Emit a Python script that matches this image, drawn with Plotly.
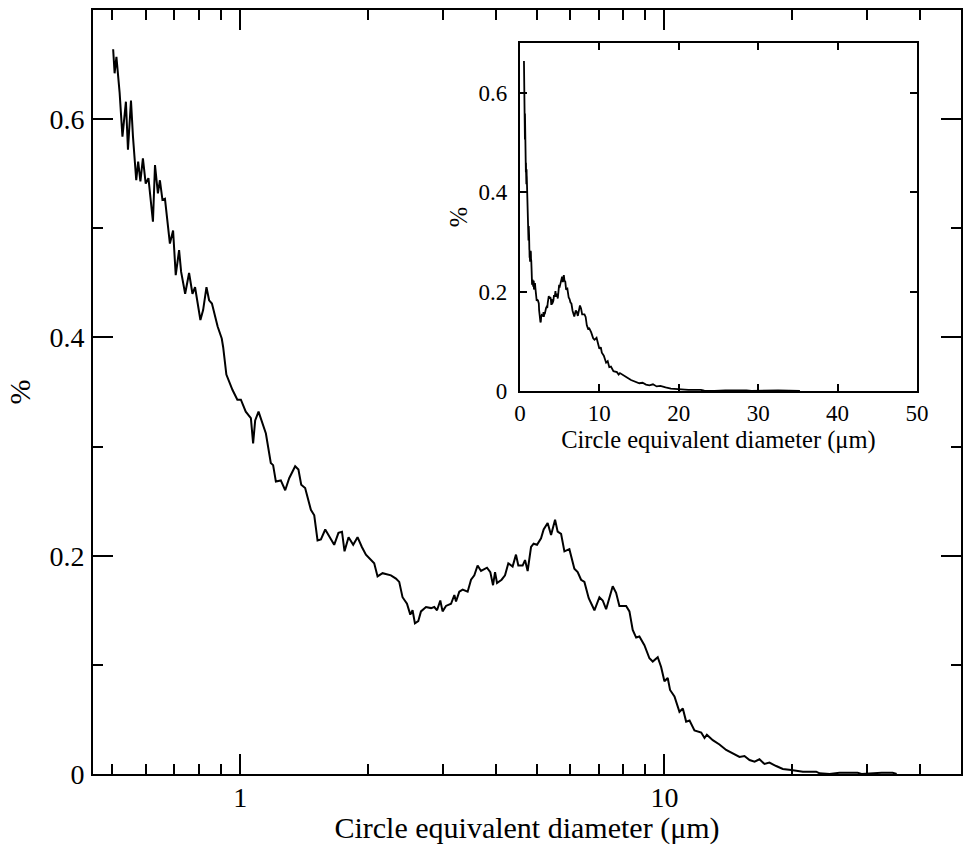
import math
import plotly.graph_objects as go

# Circle equivalent diameter (µm) and frequency (%)
diameter_um = [
    0.502, 0.506, 0.511, 0.515, 0.520, 0.528, 0.538, 0.544, 0.553, 0.559,
    0.569, 0.575, 0.582, 0.590, 0.599, 0.608, 0.623, 0.630, 0.640, 0.647,
    0.656, 0.665, 0.683, 0.695, 0.705, 0.718, 0.726, 0.742, 0.758, 0.772,
    0.783, 0.806, 0.818, 0.833, 0.845, 0.858, 0.885, 0.905, 0.912, 0.928,
    0.959, 0.985, 1.004, 1.031, 1.060, 1.073, 1.085, 1.105, 1.150, 1.181,
    1.196, 1.214, 1.247, 1.277, 1.305, 1.348, 1.372, 1.393, 1.423, 1.468,
    1.495, 1.522, 1.550, 1.587, 1.628, 1.666, 1.705, 1.738, 1.762, 1.801,
    1.847, 1.891, 1.936, 1.979, 2.070, 2.108, 2.166, 2.267, 2.329, 2.371,
    2.414, 2.473, 2.518, 2.549, 2.582, 2.629, 2.668, 2.742, 2.818, 2.868,
    2.911, 2.963, 3.000, 3.056, 3.141, 3.198, 3.227, 3.285, 3.345, 3.437,
    3.501, 3.564, 3.628, 3.696, 3.818, 3.887, 3.945, 3.988, 4.031, 4.133,
    4.210, 4.286, 4.387, 4.468, 4.525, 4.632, 4.693, 4.760, 4.849, 4.917,
    5.009, 5.119, 5.192, 5.306, 5.405, 5.524, 5.602, 5.707, 5.811, 5.970,
    6.134, 6.245, 6.361, 6.477, 6.631, 6.839, 7.027, 7.154, 7.287, 7.553,
    7.693, 7.832, 8.123, 8.270, 8.419, 8.576, 8.730, 8.970, 9.218, 9.385,
    9.643, 9.822, 10.00, 10.18, 10.31, 10.56, 10.85, 11.05, 11.25, 11.46,
    11.77, 12.21, 12.43, 12.59, 13.00, 13.48, 13.98, 14.49, 15.03, 15.44,
    15.87, 16.31, 16.75, 17.21, 17.68, 18.34, 19.01, 19.90, 21.20, 22.79,
    23.21, 24.50, 25.86, 28.52, 29.15, 32.50, 34.50, 35.26,
]

percent = [
    0.664, 0.642, 0.657, 0.643, 0.624, 0.584, 0.616, 0.572, 0.617, 0.584,
    0.544, 0.561, 0.543, 0.564, 0.541, 0.546, 0.506, 0.558, 0.532, 0.544,
    0.526, 0.527, 0.486, 0.498, 0.457, 0.480, 0.460, 0.440, 0.459, 0.440,
    0.446, 0.416, 0.425, 0.446, 0.434, 0.431, 0.410, 0.399, 0.391, 0.366,
    0.352, 0.343, 0.343, 0.332, 0.326, 0.303, 0.324, 0.332, 0.312, 0.285,
    0.283, 0.268, 0.269, 0.260, 0.271, 0.282, 0.279, 0.265, 0.262, 0.242,
    0.237, 0.214, 0.215, 0.224, 0.216, 0.210, 0.221, 0.222, 0.204, 0.217,
    0.210, 0.217, 0.208, 0.201, 0.193, 0.181, 0.184, 0.182, 0.179, 0.176,
    0.162, 0.156, 0.146, 0.150, 0.138, 0.140, 0.149, 0.153, 0.152, 0.153,
    0.150, 0.159, 0.149, 0.154, 0.156, 0.164, 0.158, 0.167, 0.169, 0.167,
    0.178, 0.182, 0.191, 0.186, 0.189, 0.185, 0.173, 0.185, 0.175, 0.178,
    0.182, 0.193, 0.190, 0.201, 0.191, 0.191, 0.196, 0.186, 0.208, 0.211,
    0.210, 0.216, 0.224, 0.230, 0.219, 0.233, 0.222, 0.220, 0.204, 0.206,
    0.188, 0.185, 0.178, 0.176, 0.161, 0.150, 0.162, 0.159, 0.151, 0.172,
    0.166, 0.154, 0.154, 0.149, 0.132, 0.125, 0.126, 0.118, 0.106, 0.103,
    0.107, 0.098, 0.085, 0.088, 0.077, 0.071, 0.057, 0.060, 0.048, 0.049,
    0.040, 0.038, 0.033, 0.036, 0.031, 0.027, 0.022, 0.019, 0.0156, 0.0165,
    0.0128, 0.0113, 0.0135, 0.0092, 0.0104, 0.0073, 0.0046, 0.0037, 0.0021, 0.0021,
    0.0006, 0.0, 0.0012, 0.0012, 0.0, 0.0012, 0.0012, 0.0,
]

main_x_ticks = [1, 10]
main_x_minor = [0.5, 0.6, 0.7, 0.8, 0.9, 2, 3, 4, 5, 6, 7, 8, 9, 20, 30, 40, 50]
y_ticks = [0, 0.2, 0.4, 0.6]
y_tick_text = ["0", "0.2", "0.4", "0.6"]
main_y_minor = [0.1, 0.3, 0.5]
inset_x_ticks = [0, 10, 20, 30, 40, 50]
x_title = "Circle equivalent diameter (μm)"
y_title = "%"

FONT = "Liberation Serif, Times New Roman, serif"
MAIN_FS = 28
MAIN_TITLE_FS = 30
INSET_FS = 23
INSET_TITLE_FS = 24.5

fig = go.Figure()
fig.add_trace(go.Scatter(x=diameter_um, y=percent, mode="lines",
                         line=dict(color="black", width=2),
                         xaxis="x", yaxis="y", showlegend=False))
fig.add_trace(go.Scatter(x=diameter_um, y=percent, mode="lines",
                         line=dict(color="black", width=1.8),
                         xaxis="x2", yaxis="y2", showlegend=False))

common = dict(showline=True, linecolor="black", linewidth=2, mirror="ticks",
              ticks="inside", tickcolor="black", tickwidth=2,
              showgrid=False, zeroline=False, automargin=False)

fig.update_layout(
    width=965, height=845,
    margin=dict(l=93, r=4, t=10, b=71),
    paper_bgcolor="white", plot_bgcolor="white",
    font=dict(family=FONT, color="black"),
    xaxis=dict(**common, type="log", domain=[0, 1], anchor="y",
               range=[math.log10(0.45), math.log10(50)],
               tickmode="array", tickvals=main_x_ticks,
               ticktext=[str(v) for v in main_x_ticks], ticklen=20,
               minor=dict(tickmode="array", tickvals=main_x_minor, ticks="inside",
                          ticklen=10, tickwidth=2, tickcolor="black", showgrid=False),
               tickfont=dict(size=MAIN_FS, family=FONT), ticklabelstandoff=-3,
               title=dict(text=x_title, font=dict(size=MAIN_TITLE_FS, family=FONT), standoff=10)),
    yaxis=dict(**common, domain=[0, 1], anchor="x", range=[0, 0.7],
               tickmode="array", tickvals=y_ticks, ticktext=y_tick_text, ticklen=20,
               minor=dict(tickmode="array", tickvals=main_y_minor, ticks="inside",
                          ticklen=10, tickwidth=2, tickcolor="black", showgrid=False),
               tickfont=dict(size=MAIN_FS, family=FONT), ticklabelstandoff=1,
               title=dict(text=y_title, font=dict(size=MAIN_TITLE_FS, family=FONT), standoff=10)),
    xaxis2=dict(**common, domain=[0.4919, 0.9493], anchor="y2", range=[0, 50],
                tickmode="array", tickvals=inset_x_ticks,
                ticktext=[str(v) for v in inset_x_ticks], ticklen=7,
                tickfont=dict(size=INSET_FS, family=FONT), ticklabelstandoff=0,
                title=dict(text=x_title, font=dict(size=INSET_TITLE_FS, family=FONT), standoff=6)),
    yaxis2=dict(**common, domain=[0.5013, 0.9568], anchor="x2", range=[0, 0.7],
                tickmode="array", tickvals=y_ticks, ticktext=y_tick_text, ticklen=7,
                tickfont=dict(size=INSET_FS, family=FONT), ticklabelstandoff=6,
                title=dict(text=y_title, font=dict(size=INSET_TITLE_FS, family=FONT), standoff=4)),
)

fig.write_html(
    "out.html",
    config={"displayModeBar": False},
    post_script="document.body.style.margin='0';document.body.style.padding='0';",
)
